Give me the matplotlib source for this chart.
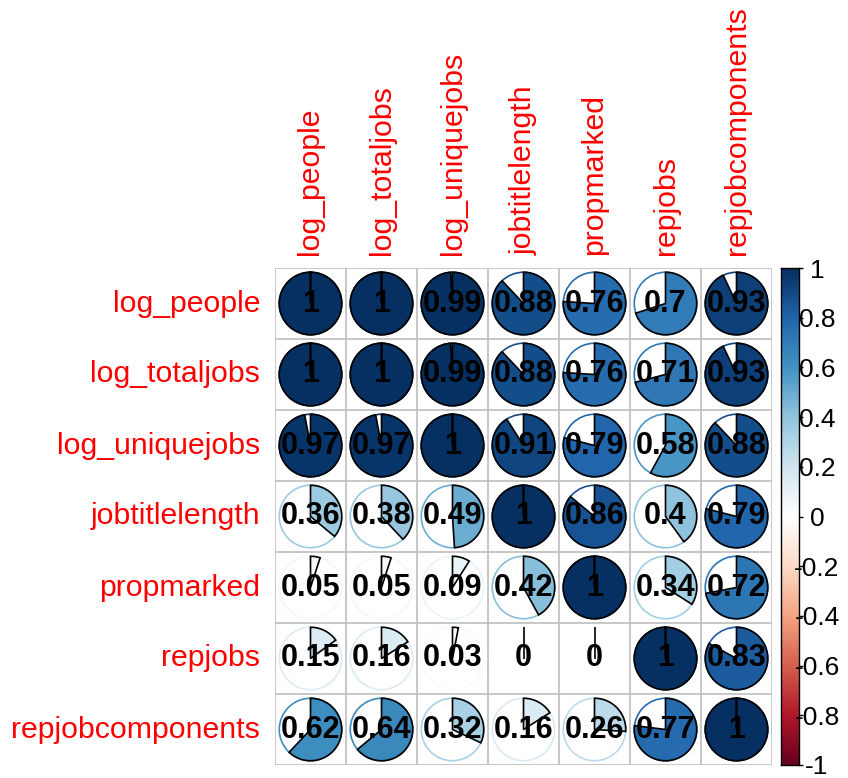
import numpy as np
import matplotlib
matplotlib.use("Agg")
import matplotlib.pyplot as plt
from matplotlib.colors import LinearSegmentedColormap, Normalize
from matplotlib.patches import Circle, Polygon

plt.rcParams['font.family'] = ['Liberation Sans', 'DejaVu Sans']

# variable names and the correlation values shown in each cell
row_names = ["log_people", "log_totaljobs", "log_uniquejobs", "jobtitlelength",
             "propmarked", "repjobs", "repjobcomponents"]
col_names = ["log_people", "log_totaljobs", "log_uniquejobs", "jobtitlelength",
             "propmarked", "repjobs", "repjobcomponents"]

r_log_people = [1, 1, 0.99, 0.88, 0.76, 0.7, 0.93]
r_log_totaljobs = [1, 1, 0.99, 0.88, 0.76, 0.71, 0.93]
r_log_uniquejobs = [0.97, 0.97, 1, 0.91, 0.79, 0.58, 0.88]
r_jobtitlelength = [0.36, 0.38, 0.49, 1, 0.86, 0.4, 0.79]
r_propmarked = [0.05, 0.05, 0.09, 0.42, 1, 0.34, 0.72]
r_repjobs = [0.15, 0.16, 0.03, 0, 0, 1, 0.83]
r_repjobcomponents = [0.62, 0.64, 0.32, 0.16, 0.26, 0.77, 1]

corr = np.array([r_log_people, r_log_totaljobs, r_log_uniquejobs, r_jobtitlelength,
                 r_propmarked, r_repjobs, r_repjobcomponents])

cbar_ticks = [-1, -0.8, -0.6, -0.4, -0.2, 0, 0.2, 0.4, 0.6, 0.8, 1]

# RdBu palette, 200 steps
cmap = LinearSegmentedColormap.from_list(
    "rdbu200",
    ["#67001F", "#B2182B", "#D6604D", "#F4A582", "#FDDBC7", "#FFFFFF",
     "#D1E5F0", "#92C5DE", "#4393C3", "#2166AC", "#053061"], N=200)
norm = Normalize(-1, 1)

W, H = 848, 778
fig = plt.figure(figsize=(W / 100, H / 100), dpi=100)

n = len(row_names)
gx0, gy0, gsize = 275, 13, 497
ax = fig.add_axes([gx0 / W, gy0 / H, gsize / W, gsize / H])
ax.set_xlim(0.5, n + 0.5)
ax.set_ylim(0.5, n + 0.5)
ax.axis("off")

# grid lines
for k in range(n + 1):
    ax.plot([0.5 + k, 0.5 + k], [0.5, n + 0.5], color="#BEBEBE", lw=1.2, zorder=1)
    ax.plot([0.5, n + 0.5], [0.5 + k, 0.5 + k], color="#BEBEBE", lw=1.2, zorder=1)

rad = 0.44


def pie_points(cx, cy, val, radius):
    # slice starts at 12 o'clock and runs clockwise for positive values
    ang = np.pi / 2 - np.linspace(0, 2 * np.pi * val, 200)
    xs = cx + radius * np.cos(ang)
    ys = cy + radius * np.sin(ang)
    return np.column_stack([np.r_[cx, xs, cx], np.r_[cy, ys, cy]])


for i in range(n):
    for j in range(n):
        v = corr[i, j]
        cx, cy = j + 1, n - i
        col = cmap(norm(v))
        ax.add_patch(Circle((cx, cy), rad, facecolor="none", edgecolor=col,
                            lw=1.2, zorder=2))
        ax.add_patch(Polygon(pie_points(cx, cy, v, rad), closed=True,
                             facecolor=col, edgecolor="black", lw=1.2, zorder=3))
        ax.text(cx, cy, f"{v:g}", ha="center", va="center", fontsize=22,
                fontweight="bold", color="black", zorder=4)

# row and column labels
for i, name in enumerate(row_names):
    ax.text(0.29, n - i, name, ha="right", va="center", fontsize=21.8,
            color="red", clip_on=False)
for j, name in enumerate(col_names):
    ax.text(j + 1, n + 0.5 + 0.18, name, ha="center", va="bottom", rotation=90,
            fontsize=21.8, color="red", clip_on=False)

# colour legend
cax = fig.add_axes([781 / W, gy0 / H, 18 / W, gsize / H])
grad = np.linspace(-1, 1, 200).reshape(-1, 1)
cax.imshow(grad, cmap=cmap, norm=norm, aspect="auto", origin="lower",
           extent=[0, 1, -1, 1])
cax.set_xticks([])
cax.yaxis.tick_right()
cax.set_yticks(cbar_ticks)
cax.set_yticklabels([f"{t:g}" for t in cbar_ticks])
cax.tick_params(axis="y", length=3, width=1, pad=10, labelsize=19)
for lbl in cax.get_yticklabels():
    lbl.set_horizontalalignment("center")
for sp in cax.spines.values():
    sp.set_linewidth(1)

fig.savefig("out.png", dpi=100)
